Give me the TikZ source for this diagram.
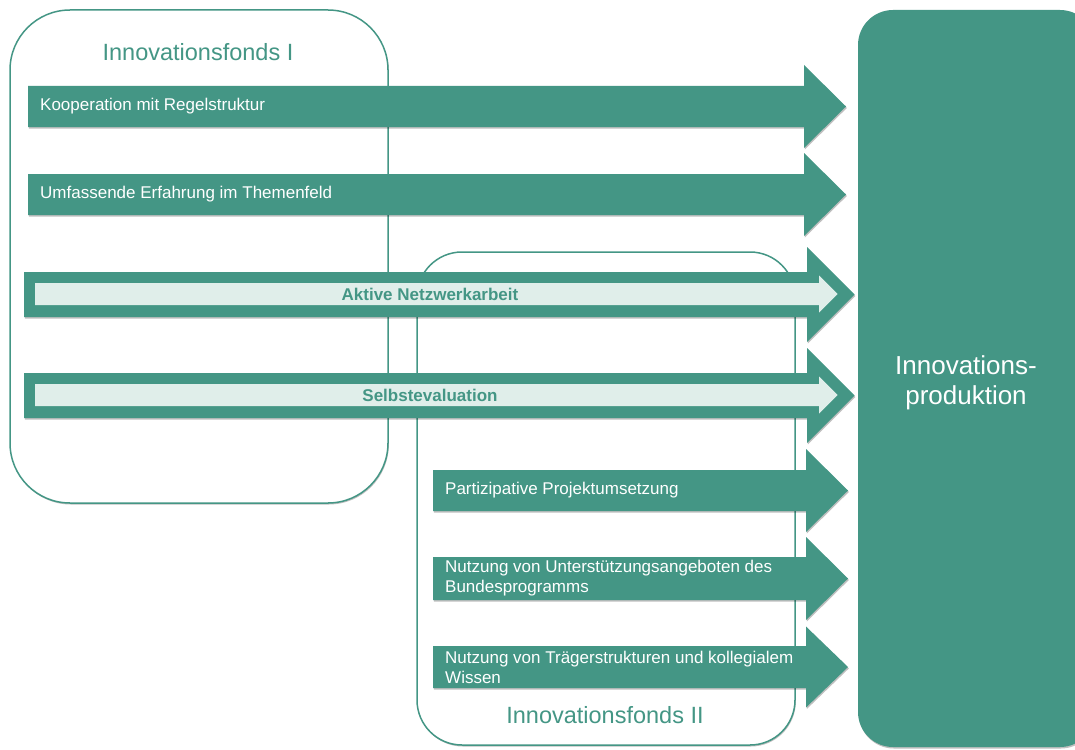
\documentclass[tikz,border=0pt]{standalone}
\usepackage{fontspec}
\setmainfont{Liberation Sans}
\usetikzlibrary{shadows}
\definecolor{teal1}{RGB}{68,150,133}
\definecolor{lightteal}{RGB}{224,238,234}
\newcommand{\tarrow}[7][]{% opts, x1, x2, yc, bodyhalf, headhalf, tip
  \path[#1] (#2,#4-#5) -- (#3,#4-#5) -- (#3,#4-#6) -- (#7,#4) -- (#3,#4+#6) -- (#3,#4+#5) -- (#2,#4+#5) -- cycle;}
\tikzset{
  fbox/.style={draw=teal1, fill=white, line width=1.5pt,
    drop shadow={shadow xshift=0.8pt, shadow yshift=-1.5pt, opacity=0.25, fill=black}},
  arrowfill/.style={fill=teal1,
    drop shadow={shadow xshift=0.8pt, shadow yshift=-1.5pt, opacity=0.25, fill=black}},
  innerfill/.style={fill=lightteal},
  lbl/.style={text=white, font=\fontsize{17}{20}\selectfont, anchor=west, inner sep=0pt, align=left},
  blbl/.style={text=teal1, font=\fontsize{17}{20}\selectfont\bfseries, inner sep=0pt},
  title/.style={text=teal1, font=\fontsize{23.5}{28}\selectfont, inner sep=0pt},
}
\begin{document}
\begin{tikzpicture}[x=1pt,y=-1pt]
\useasboundingbox (0,0) rectangle (1075,749);
\begin{scope}
\clip (0,0) rectangle (1075,749);
% containers
\path[fbox, rounded corners=60pt] (10,10) rectangle (388,503);
\path[fbox, rounded corners=45pt] (417,252) rectangle (795,745);
\path[fill=teal1, rounded corners=35pt,
  drop shadow={shadow xshift=0.8pt, shadow yshift=-1.5pt, opacity=0.25, fill=black}]
  (858,10) rectangle (1095,747);
\end{scope}
\node[title] (t1) at (198,52) {Innovationsfonds I};
\node[title] (t2) at (605,715) {Innovationsfonds II};
\node[text=white, font=\fontsize{26}{30}\selectfont, align=center, inner sep=0pt] (prod) at (966,383) {Innovations-\\produktion};
% simple arrows
\tarrow[arrowfill]{28}{804}{106.5}{20.5}{41.5}{846}
\tarrow[arrowfill]{28}{804}{194.5}{20.5}{41.5}{846}
\tarrow[arrowfill]{433}{806}{490.5}{20.5}{41.5}{848}
\tarrow[arrowfill]{433}{806}{578.5}{21.5}{41.5}{848}
\tarrow[arrowfill]{433}{806}{667}{21}{40.5}{848}
% double arrows
\tarrow[arrowfill]{24}{807}{294.5}{22.5}{47.5}{854.5}
\tarrow[innerfill]{35}{819}{294}{11}{18.5}{837.5}
\tarrow[arrowfill]{24}{807}{395.5}{22.5}{47.5}{854.5}
\tarrow[innerfill]{35}{819}{395}{11}{18.5}{837.5}
% labels
\node[lbl] (a1) at (40,106.5) {Kooperation mit Regelstruktur};
\node[lbl] (a2) at (40,194.5) {Umfassende Erfahrung im Themenfeld};
\node[blbl] (a3) at (430,294) {Aktive Netzwerkarbeit};
\node[blbl] (a4) at (430,395) {Selbstevaluation};
\node[lbl] (a5) at (445,490.5) {Partizipative Projektumsetzung};
\node[lbl] (a6) at (445,578.5) {Nutzung von Unterstützungsangeboten des\\Bundesprogramms};
\node[lbl] (a7) at (445,667) {Nutzung von Trägerstrukturen und kollegialem\\Wissen};
\end{tikzpicture}
\end{document}
